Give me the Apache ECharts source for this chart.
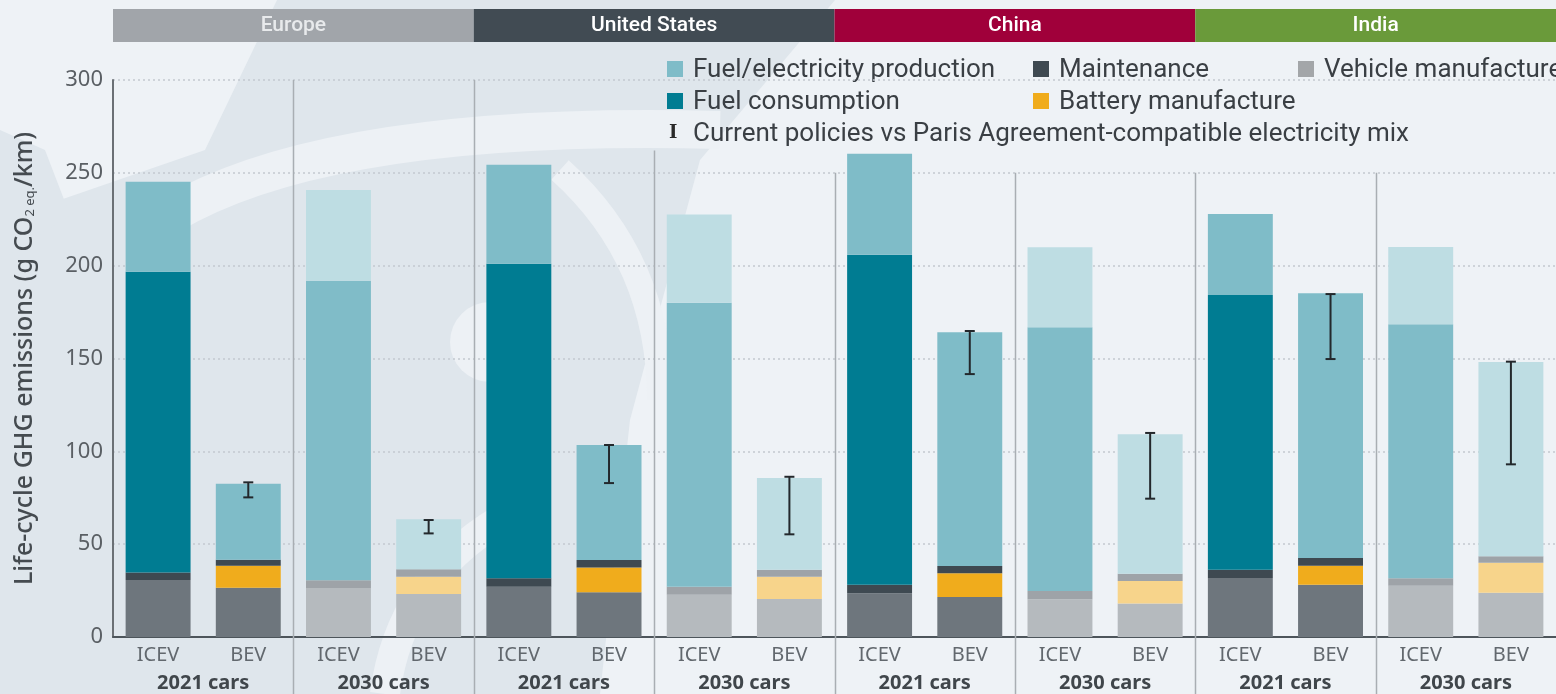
<!DOCTYPE html>
<html>
<head>
<meta charset="utf-8">
<script src="https://cdn.jsdelivr.net/npm/echarts@6/dist/echarts.min.js"></script>
<style>
html,body{margin:0;padding:0;background:#eef2f6;}
#chart{width:1556px;height:694px;}
</style>
</head>
<body>
<div id="chart"></div>
<script>
// ---- data ----
const categories = ['ICEV','BEV','ICEV','BEV','ICEV','BEV','ICEV','BEV','ICEV','BEV','ICEV','BEV','ICEV','BEV','ICEV','BEV'];
const yearGroups = ['2021 cars','2030 cars','2021 cars','2030 cars','2021 cars','2030 cars','2021 cars','2030 cars'];
const regions = ['Europe','United States','China','India'];
const yTicks = [0,50,100,150,200,250,300];

const vehicleManufacture = [30.7, 26.5, 26.4, 23.2, 27.1, 24.1, 22.8, 20.5, 23.5, 21.5, 20.3, 18.1, 31.8, 28.2, 27.6, 23.9];
const batteryManufacture = [0, 11.9, 0, 9.3, 0, 13.4, 0, 12.0, 0, 12.8, 0, 12.1, 0, 10.2, 0, 16.1];
const maintenance        = [4.1, 3.2, 4.1, 4.0, 4.5, 4.0, 4.3, 3.7, 4.7, 3.9, 4.5, 3.9, 4.4, 4.1, 4.0, 3.5];
const fuelConsumption    = [161.9, 0, 161.4, 0, 169.4, 0, 152.9, 0, 177.7, 0, 142.0, 0, 148.0, 0, 136.8, 0];
const fuelProduction     = [48.5, 41.0, 48.8, 26.9, 53.3, 61.9, 47.6, 49.4, 54.4, 126.0, 43.1, 75.1, 43.6, 142.6, 41.6, 104.6];
const errHigh = [null, 83.3, null, 63.0, null, 103.4, null, 86.3, null, 164.8, null, 109.9, null, 184.7, null, 148.3];
const errLow  = [null, 75.2, null, 55.8, null, 82.9, null, 55.3, null, 141.6, null, 74.5, null, 149.7, null, 93.0];
// top of the vertical group separators (value units)
const separatorTops = [300, 300, 262, 250, 250, 250, 250];

// ---- style ----
const regionColors = ['#a1a5aa','#414b53','#a0003a','#6a9a3a'];
const regionTextColors = ['#e8eaec','#ffffff','#ffffff','#ffffff'];
// [2021 colour, 2030 (faded) colour]
const colors = {
  prod:  ['#7fbcc8', '#bedde3'],
  cons:  ['#007c92', '#80bcc8'],
  maint: ['#3e4951', '#9ea3a8'],
  veh:   ['#6e767d', '#b5babe'],
  batt:  ['#f0ac1c', '#f7d48b']
};
const FONT = 'Roboto';
const AXFONT = '"Noto Sans"';

function barData(arr, pair){
  return arr.map((v,i)=>({
    value: v,
    itemStyle: { color: (Math.floor(i/2)%2===1) ? pair[1] : pair[0] }
  }));
}
function barSeries(name, arr, pair){
  return { name, type:'bar', stack:'total', barWidth:'72%', data: barData(arr, pair),
    itemStyle:{color:pair[0]}, emphasis:{disabled:true}, z:3 };
}

const chart = echarts.init(document.getElementById('chart'), null, {renderer:'canvas'});

// faint background watermark (decorative)
const wm = '#dfe6ec';
const lt = '#edf1f5';
const graphics = [
  {type:'polygon', z:-10, silent:true, shape:{points:[[277,0],[835,0],[700,160],[630,420],[600,694],[0,694],[0,235],[60,200],[205,150]]}, style:{fill:wm}},
  {type:'polygon', z:-10, silent:true, shape:{points:[[0,130],[45,150],[70,215],[0,260]]}, style:{fill:wm}},
  {type:'bezierCurve', z:-9, silent:true, shape:{x1:170, y1:215, cpx1:330, cpy1:120, x2:720, y2:130}, style:{stroke:lt, lineWidth:38, fill:null}},
  {type:'bezierCurve', z:-9, silent:true, shape:{x1:560, y1:170, cpx1:660, cpy1:260, x2:660, y2:400}, style:{stroke:lt, lineWidth:26, fill:null}},
  {type:'circle', z:-9, silent:true, shape:{cx:490, cy:342, r:40}, style:{fill:lt}},
  {type:'bezierCurve', z:-9, silent:true, shape:{x1:385, y1:694, cpx1:400, cpy1:580, x2:500, y2:520}, style:{stroke:lt, lineWidth:30, fill:null}}
];
function sw(x,y,color,label){
  graphics.push({type:'rect', shape:{x:x, y:y-8, width:16, height:16}, style:{fill:color}});
  graphics.push({type:'text', x:x+26, y:y+1, style:{text:label, fill:'#3a3f44', font:'26px '+FONT, verticalAlign:'middle'}});
}
sw(667, 69, colors.prod[0], 'Fuel/electricity production');
sw(1033, 69, colors.maint[0], 'Maintenance');
sw(1298, 69, '#a3a6a9', 'Vehicle manufacture');
sw(667, 101, colors.cons[0], 'Fuel consumption');
sw(1033, 101, colors.batt[0], 'Battery manufacture');
graphics.push({type:'text', x:669, y:133, style:{text:'I', fill:'#2a2a2a', font:'bold 18px "DejaVu Serif"', verticalAlign:'middle'}});
graphics.push({type:'text', x:693, y:134, style:{text:'Current policies vs Paris Agreement-compatible electricity mix', fill:'#3a3f44', font:'26px '+FONT, verticalAlign:'middle'}});

const option = {
  backgroundColor: '#eef2f6',
  animation: false,
  grid: { left:113, right:0, top:80, bottom:57 },
  xAxis: [
    { type:'category', data: categories, axisTick:{show:false},
      axisLine:{lineStyle:{color:'#4d555b', width:2}},
      axisLabel:{color:'#62686e', fontFamily:AXFONT, fontSize:20, margin:8} },
    { type:'category', data: yearGroups, position:'bottom', axisTick:{show:false},
      axisLine:{show:false},
      axisLabel:{color:'#40464b', fontFamily:AXFONT, fontSize:20, fontWeight:'bold', margin:36} }
  ],
  yAxis: {
    type:'value', min:0, max:300, interval:50,
    axisLine:{show:true, lineStyle:{color:'#6b7075', width:2}},
    axisTick:{show:false},
    splitLine:{lineStyle:{color:'#c3c9cf', type:[2,3], width:1.5}},
    axisLabel:{color:'#5a5f64', fontFamily:AXFONT, fontSize:22, margin:10,
      formatter: v => yTicks.includes(v) ? String(v) : ''},
    name:'{a|Life-cycle GHG emissions (g CO}{s|2 eq.}{a|/km)}',
    nameLocation:'middle', nameGap:76, nameRotate:90,
    nameTextStyle:{ rich:{
      a:{fontFamily:AXFONT, fontSize:25, fontWeight:500, color:'#454b50'},
      s:{fontFamily:AXFONT, fontSize:13, color:'#454b50', verticalAlign:'bottom', padding:[10,0,0,0]}
    }}
  },
  graphic: graphics,
  series: [
    barSeries('Vehicle manufacture', vehicleManufacture, colors.veh),
    barSeries('Battery manufacture', batteryManufacture, colors.batt),
    barSeries('Maintenance', maintenance, colors.maint),
    barSeries('Fuel consumption', fuelConsumption, colors.cons),
    barSeries('Fuel/electricity production', fuelProduction, colors.prod),
    {
      type:'custom', name:'Error', z:10, silent:true,
      data: errHigh.map((h,i)=> h==null ? null : [i, errLow[i], h]).filter(d=>d),
      encode:{x:0, y:[1,2]},
      renderItem(params, api){
        const x = api.value(0);
        const lo = api.coord([x, api.value(1)]);
        const hi = api.coord([x, api.value(2)]);
        const w = 5;
        const st = {stroke:'#23282c', lineWidth:2};
        return {type:'group', children:[
          {type:'line', shape:{x1:lo[0], y1:lo[1], x2:hi[0], y2:hi[1]}, style:st},
          {type:'line', shape:{x1:lo[0]-w, y1:lo[1], x2:lo[0]+w, y2:lo[1]}, style:st},
          {type:'line', shape:{x1:hi[0]-w, y1:hi[1], x2:hi[0]+w, y2:hi[1]}, style:st}
        ]};
      }
    },
    {
      type:'custom', name:'Separators', z:1, silent:true,
      data: separatorTops.map((t,k)=>[2*k+1, t]),
      encode:{x:0, y:1},
      renderItem(params, api){
        const c = api.coord([api.value(0), api.value(1)]);
        const bw = api.size([1,0])[0];
        const x = Math.round(c[0] + bw/2) + 0.5;
        const bottom = params.coordSys.y + params.coordSys.height + 60;
        return {type:'line', shape:{x1:x, y1:c[1], x2:x, y2:bottom},
          style:{stroke:'#a9aeb3', lineWidth:1.5}};
      }
    },
    {
      type:'custom', name:'Regions', z:5, silent:true,
      data: regions.map((r,k)=>[4*k, 4*k+3, 0]),
      encode:{x:[0,1], y:2},
      renderItem(params, api){
        const bw = api.size([1,0])[0];
        const x0 = api.coord([api.value(0), 0])[0] - bw/2;
        const x1 = api.coord([api.value(1), 0])[0] + bw/2;
        const top = params.coordSys.y - 71;
        const idx = params.dataIndex;
        return {type:'group', children:[
          {type:'rect', shape:{x:x0, y:top, width:x1-x0, height:33}, style:{fill:regionColors[idx]}},
          {type:'text', x:(x0+x1)/2, y:top+17, style:{text:regions[idx], fill:regionTextColors[idx],
            font:'500 21px '+FONT, align:'center', verticalAlign:'middle'}}
        ]};
      }
    }
  ]
};
chart.setOption(option);
</script>
</body>
</html>
